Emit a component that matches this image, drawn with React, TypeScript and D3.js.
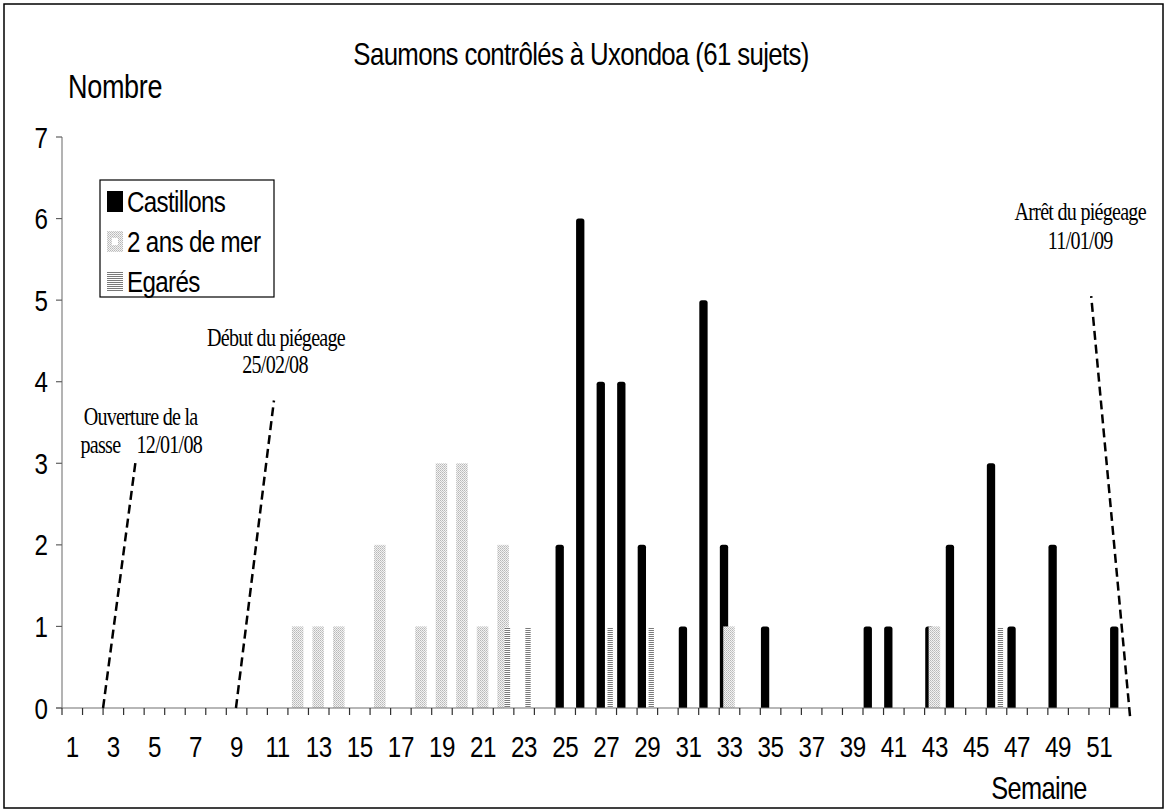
import React from 'react';
import * as d3 from 'd3';

// weeks of the year on the category axis
const WEEKS = d3.range(1, 53);
const WEEK_LABELS = WEEKS.filter(w => w % 2 === 1);
const Y_TICKS = [0, 1, 2, 3, 4, 5, 6, 7];

// [week, count]
const castillons: [number, number][] = [
  [25, 2], [26, 6], [27, 4], [28, 4], [29, 2], [31, 1], [32, 5], [33, 2], [35, 1],
  [40, 1], [41, 1], [43, 1], [44, 2], [46, 3], [47, 1], [49, 2], [52, 1],
];
const deuxAnsDeMer: [number, number][] = [
  [12, 1], [13, 1], [14, 1], [16, 2], [18, 1], [19, 3], [20, 3], [21, 1], [22, 2], [33, 1], [43, 1],
];
const egares: [number, number][] = [
  [22, 1], [23, 1], [27, 1], [29, 1], [46, 1],
];

const SERIES_NAMES = ['Castillons', '2 ans de mer', 'Egarés'];

// dashed markers: from (week position, count) at the axis to the label end
const annotations = [
  { from: [2.0, 0], to: [3.58, 3.02], labels: [
    { text: 'Ouverture de la', dx: 5, dy: -37, anchor: 'middle' },
    { text: 'passe', dx: -55, dy: -9, anchor: 'start' },
    { text: '12/01/08', dx: 1, dy: -9, anchor: 'start' },
  ] },
  { from: [8.47, 0], to: [10.32, 3.77], labels: [
    { text: 'Début du piégeage', dx: 2, dy: -54, anchor: 'middle' },
    { text: '25/02/08', dx: 1, dy: -27, anchor: 'middle' },
  ] },
  { from: [52.0, -0.1], to: [50.11, 5.05], labels: [
    { text: 'Arrêt du piégeage', dx: -11, dy: -76, anchor: 'middle' },
    { text: '11/01/09', dx: -11, dy: -47, anchor: 'middle' },
  ] },
];

const W = 1168;
const H = 811;
const margin = { top: 137, right: 38, bottom: 103, left: 62 };
const SANS = '"Liberation Sans", Arial, sans-serif';
const SERIF = '"Liberation Serif", "Times New Roman", serif';
const SQUEEZE = 0.82;

function Txt({ x, y, size, serif = false, anchor = 'start', ls = 0, children }: any) {
  return (
    <text
      transform={`translate(${x},${y}) scale(${SQUEEZE},1)`}
      fontSize={size}
      fontFamily={serif ? SERIF : SANS}
      textAnchor={anchor}
      letterSpacing={ls}
      fill="#000"
    >
      {children}
    </text>
  );
}

// bar with rounded top corners (Excel's thick black outline look)
function roundTop(xl: number, xr: number, yt: number, yb: number, r: number) {
  const p = d3.path();
  p.moveTo(xl, yb);
  p.lineTo(xl, yt + r);
  p.quadraticCurveTo(xl, yt, xl + r, yt);
  p.lineTo(xr - r, yt);
  p.quadraticCurveTo(xr, yt, xr, yt + r);
  p.lineTo(xr, yb);
  p.closePath();
  return p.toString();
}

export default function App() {
  const x0 = margin.left;
  const x1 = W - margin.right;
  const yBottom = H - margin.bottom;

  const x = d3.scaleBand<number>().domain(WEEKS).range([x0, x1]).paddingInner(0).paddingOuter(0);
  const xPos = d3.scaleLinear().domain([0, WEEKS.length]).range([x0, x1]);
  const y = d3.scaleLinear().domain([0, 7]).range([yBottom, margin.top]);
  const bw = x.bandwidth();

  // where each series sits inside a week's band (fraction of band)
  const slot = {
    c: [0.03, 0.435],
    d: [0.195, 0.755],
    e: [0.56, 0.82],
  };

  const line = d3.line<number[]>().x(d => xPos(d[0])).y(d => y(d[1]));

  return (
    <svg width={W} height={H} style={{ position: 'absolute', left: 0, top: 0, background: '#fff' }}>
      <defs>
        <pattern id="dots" width="2" height="2" patternUnits="userSpaceOnUse">
          <rect width="2" height="2" fill="#f2f2f2" />
          <rect x="0" y="0" width="1" height="1" fill="#b8b8b8" />
          <rect x="1" y="1" width="1" height="1" fill="#c8c8c8" />
        </pattern>
        <pattern id="stripes" width="2" height="2" patternUnits="userSpaceOnUse">
          <rect width="2" height="2" fill="#fff" />
          <rect x="0" y="0" width="2" height="1" fill="#7a7a7a" />
        </pattern>
      </defs>

      {/* chart frame */}
      <rect x={4} y={4} width={1159} height={804} fill="#fff" stroke="#000" strokeWidth={1.5} />

      <Txt x={581} y={65} size={31.5} ls={-0.8} anchor="middle">Saumons contrôlés à Uxondoa (61 sujets)</Txt>
      <Txt x={68} y={98} size={33} ls={-0.4}>Nombre</Txt>

      {/* y axis */}
      <line x1={x0} x2={x0} y1={y(7)} y2={yBottom} stroke="#808080" strokeWidth={1.2} />
      {Y_TICKS.map(t => (
        <g key={t}>
          <line x1={x0 - 6} x2={x0} y1={y(t)} y2={y(t)} stroke="#606060" strokeWidth={1.2} />
          <Txt x={48} y={y(t) + 10.5} size={29.5} anchor="end">{t}</Txt>
        </g>
      ))}

      {/* bars: Castillons, then 2 ans de mer, then Egarés on top */}
      {castillons.map(([w, v]) => (
        <path
          key={'c' + w}
          d={roundTop(
            (x(w) as number) + bw * slot.c[0],
            (x(w) as number) + bw * slot.c[1],
            y(v),
            yBottom,
            2.5,
          )}
          fill="#000"
        />
      ))}
      {deuxAnsDeMer.map(([w, v]) => (
        <rect
          key={'d' + w}
          x={(x(w) as number) + bw * slot.d[0]}
          y={y(v)}
          width={bw * (slot.d[1] - slot.d[0])}
          height={yBottom - y(v)}
          fill="url(#dots)"
        />
      ))}
      {egares.map(([w, v]) => (
        <rect
          key={'e' + w}
          x={(x(w) as number) + bw * slot.e[0]}
          y={y(v) + 1}
          width={bw * (slot.e[1] - slot.e[0])}
          height={yBottom - y(v) - 1}
          fill="url(#stripes)"
        />
      ))}

      {/* x axis */}
      <line x1={x0 - 6} x2={x1} y1={yBottom} y2={yBottom} stroke="#707070" strokeWidth={1.2} />
      {WEEKS.map(w => (
        <line key={'t' + w} x1={x(w) as number} x2={x(w) as number} y1={yBottom} y2={yBottom + 7} stroke="#303030" strokeWidth={1.2} />
      ))}
      {WEEK_LABELS.map(w => (
        <Txt key={'l' + w} x={(x(w) as number) + bw / 2} y={757} size={29.5} ls={-0.5} anchor="middle">{w}</Txt>
      ))}
      <Txt x={1039} y={799} size={31} ls={-0.8} anchor="middle">Semaine</Txt>

      {/* dashed markers */}
      {annotations.map((a, i) => (
        <g key={'a' + i}>
          <path d={line([a.from, a.to]) || ''} fill="none" stroke="#000" strokeWidth={2.5} strokeDasharray="9,5" />
          {a.labels.map((l, j) => (
            <Txt key={j} x={xPos(a.to[0]) + l.dx} y={y(a.to[1]) + l.dy} size={24.5} ls={-0.9} serif anchor={l.anchor}>{l.text}</Txt>
          ))}
        </g>
      ))}

      {/* legend */}
      <g>
        <rect x={100} y={180} width={174} height={117} fill="#fff" stroke="#000" strokeWidth={1.2} />
        {SERIES_NAMES.map((name, i) => {
          const top = 191 + i * 40;
          return (
            <g key={name}>
              {i === 0 && <rect x={107} y={top} width={16} height={21} fill="#000" />}
              {i === 1 && (
                <g>
                  <rect x={107} y={top} width={16} height={21} fill="url(#dots)" />
                  <rect x={112} y={top + 7} width={6} height={7} fill="#fff" />
                </g>
              )}
              {i === 2 && <rect x={107} y={top} width={16} height={21} fill="url(#stripes)" />}
              <Txt x={127} y={top + 21} size={29.5} ls={-0.8}>{name}</Txt>
            </g>
          );
        })}
      </g>
    </svg>
  );
}
